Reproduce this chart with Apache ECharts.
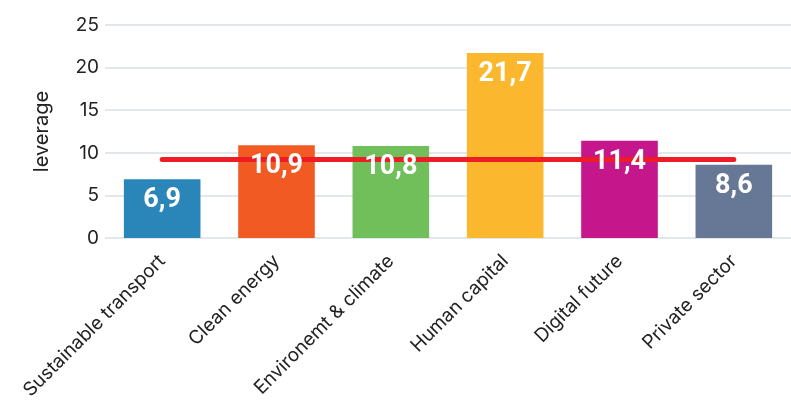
<!DOCTYPE html>
<html>
<head>
<meta charset="utf-8">
<script src="https://cdn.jsdelivr.net/npm/echarts@6/dist/echarts.min.js"></script>
<style>
  html, body { margin: 0; padding: 0; background: #fff; }
  #chart { width: 791px; height: 408px; }
</style>
</head>
<body>
<div id="chart"></div>
<script>
var categories = ["Sustainable transport", "Clean energy", "Environemt & climate", "Human capital", "Digital future", "Private sector"];
var leverage = [6.9, 10.9, 10.8, 21.7, 11.4, 8.6];
var barColors = ["#2a86b9", "#f15a22", "#70bf5b", "#fbb82e", "#c5168b", "#677796"];
var averageLine = [9.2, 9.2, 9.2, 9.2, 9.2, 9.2];
var yTicks = [0, 5, 10, 15, 20, 25];

var valueLabel = {
  show: true,
  position: 'insideTop',
  distance: 8,
  color: '#fff',
  fontFamily: 'Roboto',
  fontWeight: 'bold',
  fontSize: 27,
  formatter: function (p) { return String(p.value).replace('.', ','); }
};

var chart = echarts.init(document.getElementById('chart'));
chart.setOption({
  animation: false,
  grid: { left: 105, right: -7, top: 25, bottom: 170, containLabel: false },
  xAxis: {
    type: 'category',
    data: categories,
    axisLine: { show: false },
    axisTick: { show: false },
    axisLabel: {
      rotate: 45,
      interval: 0,
      margin: 20,
      fontFamily: 'Inter',
      fontSize: 19,
      color: '#222'
    }
  },
  yAxis: {
    type: 'value',
    min: yTicks[0],
    max: yTicks[yTicks.length - 1],
    interval: 5,
    name: 'leverage',
    nameLocation: 'middle',
    nameGap: 53,
    nameTextStyle: { fontFamily: 'Inter', fontSize: 20, color: '#222' },
    axisLine: { show: false },
    axisTick: { show: false },
    axisLabel: { fontFamily: 'Inter', fontSize: 19, color: '#222', margin: 6 },
    splitLine: { lineStyle: { color: '#e3e7ec', width: 2 } }
  },
  series: [
    {
      type: 'bar',
      barWidth: '67%',
      z: 2,
      data: leverage.map(function (v, i) {
        return { value: v, itemStyle: { color: barColors[i] } };
      })
    },
    {
      type: 'line',
      data: averageLine,
      symbol: 'none',
      lineStyle: { color: '#ee1c25', width: 5, cap: 'round' },
      z: 5
    },
    {
      // transparent copy of the bars that only carries the value labels above the line
      type: 'bar',
      barWidth: '67%',
      barGap: '-100%',
      z: 10,
      silent: true,
      itemStyle: { color: 'rgba(0,0,0,0)' },
      data: leverage,
      label: valueLabel
    }
  ]
});
</script>
</body>
</html>
